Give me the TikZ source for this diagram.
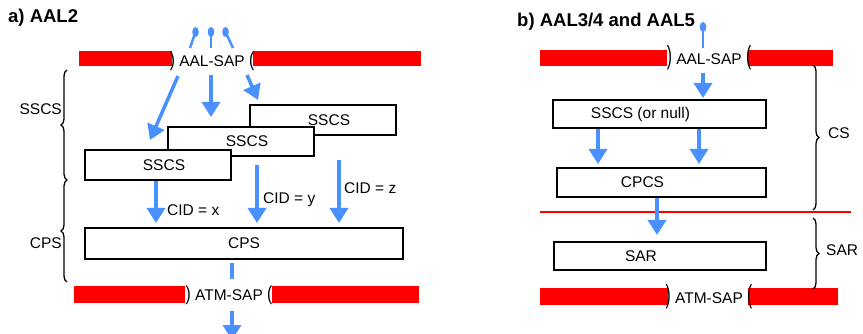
\documentclass[tikz,border=0pt]{standalone}
\usepackage{fontspec}
\setmainfont{Liberation Sans}
\usepackage{graphicx}
\usetikzlibrary{positioning,calc,arrows.meta,decorations.pathreplacing}
\definecolor{sap-red}{rgb}{1,0,0}
\definecolor{flow-blue}{RGB}{74,144,255}
\newcommand{\sapparen}[2]{\scalebox{1}[#1]{#2}}

\tikzset{
every node/.style={font=\fontsize{15.5}{18}\selectfont, inner sep=0pt},
title/.style={font=\fontsize{18.5}{22}\selectfont\bfseries, anchor=base west},
layerbox/.style={draw=black, line width=2pt, fill=white, anchor=north west},
sscsbox/.style={layerbox, minimum width=146pt, minimum height=30pt,
  execute at begin node={\hspace*{12pt}}},
csbox/.style={layerbox, minimum height=29pt,
  execute at end node={\hspace*{38pt}}},
sapbar/.style={fill=sap-red},
flow/.style={draw=flow-blue, line width=3.5pt, -{Triangle[width=18pt,length=15pt]}},
plainflow/.style={draw=flow-blue, line width=3.5pt},
lolli/.style={draw=flow-blue, line width=2.5pt},
userdot/.style={fill=flow-blue, x radius=3.3pt, y radius=5pt},
layerbrace/.style={draw=black, line width=1.3pt, decorate, decoration={brace, amplitude=6pt}}
}

\begin{document}
\begin{tikzpicture}[x=1pt, y=-1pt]
\useasboundingbox (0,0) rectangle (863,334);
\clip (0,0) rectangle (863,334);

%%% a) AAL2
\node [name=titlea, title] at (8,23) {a) AAL2};

% service access points
\fill [sapbar] (79,51) rectangle (172,66);
\fill [sapbar] (253,51) rectangle (421,66);
\node [name=aalsapa, anchor=base] at (212,67)
{\sapparen{1.3}{)} AAL-SAP \sapparen{1.3}{(}};
\fill [sapbar] (74,286) rectangle (185,303);
\fill [sapbar] (272,286) rectangle (419,303);
\node [name=atmsapa, anchor=base] at (229,300)
{\sapparen{1.3}{)} ATM-SAP \sapparen{1.3}{(}};

% stacked SSCS instances, front one last
\node [name=sscsc, sscsbox] at (249,104) {SSCS};
\node [name=sscsb, sscsbox, minimum height=29pt] at (167,126) {SSCS};
\node [name=sscsa, sscsbox] at (84,149) {SSCS};
\node [name=cps, layerbox, minimum width=318pt, minimum height=31pt] at (84,227) {CPS};

% users on top of AAL-SAP
\coordinate (saptop) at (211,48);
\foreach \d/\e in {-15.5/-21, 0/0, 14.5/22}{
  \draw [lolli] ($(saptop)+(\d,-16)$) -- ($(saptop)+(\e,0)$);
  \fill [userdot] ($(saptop)+(\d,-16)$) ellipse [];
}

\coordinate (aalout) at (211,75);
\draw [flow] ($(aalout)+(-33,1)$) -- ($(sscsa.north west)+(66,-9)$);
\draw [flow] (aalout) -- ($(sscsb.north west)+(44,-9)$);
\draw [flow] ($(aalout)+(36,0)$) -- ($(sscsc.north west)+(9,-4)$);

% CID multiplexing into CPS
\coordinate (cidx) at ($(sscsa.south)+(-2,0)$);
\coordinate (cidy) at ($(sscsb.south)+(16,8)$);
\coordinate (cidz) at ($(sscsc.south)+(16,24)$);
\foreach \c in {cidx,cidy,cidz}
  \draw [flow, shorten >=4pt] (\c) -- (\c |- cps.north);
\node [name=cidxlabel, anchor=base west] at (167,216) {CID = x};
\node [name=cidylabel, anchor=base west] at (263,204) {CID = y};
\node [name=cidzlabel, anchor=base west] at (344,194) {CID = z};

\coordinate (cpsout) at (232,263);
\coordinate (atmin) at (232,279);
\draw [plainflow] (cpsout) -- (atmin);
\coordinate (atmout) at (232,311);
\coordinate (atmend) at (232,340);
\draw [flow] (atmout) -- (atmend);

% sublayer braces
\draw [layerbrace] (67,180) -- (67,70);
\draw [layerbrace] (67,282) -- (67,180);
\node [name=sscsside, anchor=base east] at (62,115) {SSCS};
\node [name=cpsside, anchor=base east] at (62,248) {CPS};

%%% b) AAL3/4 and AAL5
\node [name=titleb, title] at (517,27) {b) AAL3/4 and AAL5};

\fill [sapbar] (540,50) rectangle (667,66);
\fill [sapbar] (748,50) rectangle (833,66);
\node [name=aalsapb, anchor=base] at (709,65)
{\sapparen{1.7}{)} AAL-SAP \sapparen{1.7}{(}};
\fill [sapbar] (540,288) rectangle (668,305);
\fill [sapbar] (748,288) rectangle (838,305);
\node [name=atmsapb, anchor=base] at (709,303)
{\sapparen{1.7}{)} ATM-SAP \sapparen{1.7}{(}};

\node [name=sscsnull, csbox, minimum width=213pt, minimum height=28pt] at (552,99) {SSCS (or null)};
\node [name=cpcs, csbox, minimum width=209pt] at (556,167) {CPCS};
\node [name=sar, csbox, minimum width=212pt, minimum height=28pt] at (553,241) {SAR};

% CS / SAR boundary
\draw [sap-red, line width=2pt] (540,212) -- (851,212);

\coordinate (userb) at (703,27);
\coordinate (userbend) at (703,48);
\draw [lolli] (userb) -- (userbend);
\fill [userdot] (userb) ellipse [];
\coordinate (aaloutb) at (703,73);
\draw [flow, shorten >=1pt] (aaloutb) -- (aaloutb |- sscsnull.north);
\coordinate (nullx) at (598,0);
\coordinate (nully) at (699,0);
\foreach \c in {nullx,nully}
  \draw [flow, shorten >=3pt] (\c |- sscsnull.south) -- (\c |- cpcs.north);
\coordinate (cpcsx) at (657,0);
\draw [flow, shorten >=6pt] (cpcsx |- cpcs.south) -- (cpcsx |- sar.north);

\draw [layerbrace] (813,65) -- (813,210);
\draw [layerbrace] (813,218) -- (813,289);
\node [name=csside, anchor=base west] at (828,139) {CS};
\node [name=sarside, anchor=base west] at (826,255) {SAR};

\end{tikzpicture}
\end{document}
